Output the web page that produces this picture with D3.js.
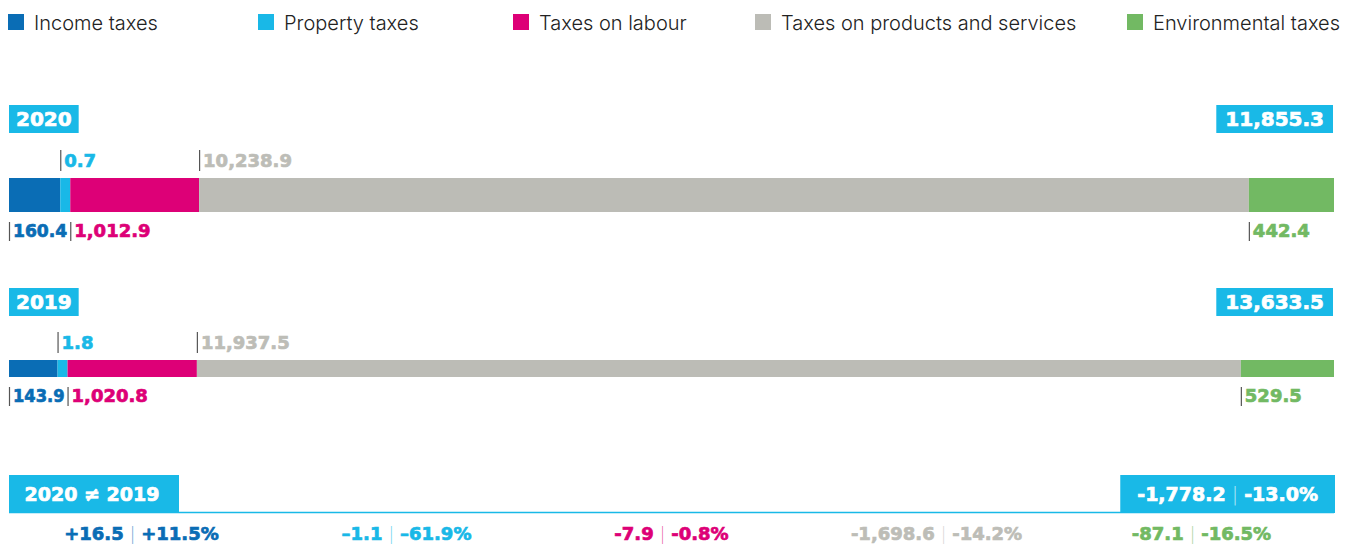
<!DOCTYPE html>
<html><head><meta charset="utf-8">
<script src="https://cdn.jsdelivr.net/npm/d3@7"></script>
<style>
html,body{margin:0;padding:0;background:#fff;}
svg{display:block;}
</style></head><body>
<svg id="chart" width="1346" height="550"></svg>
<script>
// ---------- data ----------
const categories = ["Income taxes", "Property taxes", "Taxes on labour", "Taxes on products and services", "Environmental taxes"];
const years = ["2020", "2019"];
const values2020 = [160.4, 0.7, 1012.9, 10238.9, 442.4];
const values2019 = [143.9, 1.8, 1020.8, 11937.5, 529.5];
const totals = [11855.3, 13633.5];
const labelSide = ["below", "above", "below", "above", "below"];
const changeAbs = ["+16.5", "\u20131.1", "-7.9", "-1,698.6", "-87.1"];
const changePct = ["+11.5%", "\u201361.9%", "-0.8%", "-14.2%", "-16.5%"];
const totalChangeAbs = "-1,778.2";
const totalChangePct = "-13.0%";
const compareLabel = "2020 \u2260 2019";

// ---------- style ----------
const colors = ["#0a6db5", "#19b8e7", "#dd0077", "#bcbcb6", "#72b963"];
const textColors = ["#0a6db5", "#19b8e7", "#dd0077", "#bdbdb7", "#72b963"];
const accent = "#19b9e7";
const heavy = "'DejaVu Sans', sans-serif";
const left = 9, right = 1334;
const legendX = [8, 258, 513, 755, 1127];
const rowLayout = [{boxY: 105, barY: 178, barH: 34}, {boxY: 288, barY: 360, barH: 17}];
const fmt = d3.format(",.1f");

const svg = d3.select("#chart");

// ---------- legend ----------
const lg = svg.append("g");
categories.forEach((c, i) => {
  lg.append("rect").attr("x", legendX[i]).attr("y", 14).attr("width", 16).attr("height", 16).attr("fill", colors[i]);
  lg.append("text").attr("x", legendX[i] + 26).attr("y", 30)
    .attr("font-family", "Inter, Roboto, sans-serif").attr("font-weight", 300)
    .attr("font-size", 20).attr("fill", "#222").text(c);
});

// ---------- segment scale ----------
const segScale = d3.scaleSqrt().domain([0, 1000]).range([0, 128]);
const minSeg = 10;
function layoutSegments(vals) {
  const fillIdx = vals.indexOf(d3.max(vals));
  const w = vals.map((v, i) => i === fillIdx ? 0 : Math.max(minSeg, segScale(v)));
  w[fillIdx] = (right - left) - d3.sum(w);
  const x0 = [left];
  for (let i = 1; i < w.length; i++) x0.push(x0[i - 1] + w[i - 1]);
  return vals.map((v, i) => ({v, i, x: x0[i], w: w[i]}));
}

function heavyText(sel, color) {
  return sel.attr("font-family", heavy).attr("font-weight", "bold")
    .attr("fill", color).attr("stroke", color).attr("stroke-width", 0.7)
    .attr("paint-order", "stroke");
}

function boxLabel(g, text, x, y, h, anchor, size, padX) {
  const t = heavyText(g.append("text"), "#fff").attr("font-size", size).text(text);
  const tw = t.node().getComputedTextLength();
  const bw = tw + 2 * padX;
  const bx = anchor === "end" ? x - bw : x;
  g.insert("rect", "text").attr("x", bx).attr("y", y).attr("width", bw).attr("height", h).attr("fill", accent);
  t.attr("x", bx + padX).attr("y", y + h / 2 + size * 0.36);
}

[values2020, values2019].forEach((vals, r) => {
  const L = rowLayout[r];
  const g = svg.append("g");
  boxLabel(g.append("g"), years[r], left, L.boxY, 28, "start", 20, 7);
  boxLabel(g.append("g"), fmt(totals[r]), right - 1, L.boxY, 28, "end", 20, 9);

  const segs = layoutSegments(vals);
  g.selectAll("rect.seg").data(segs).join("rect").attr("class", "seg")
    .attr("x", d => d.x).attr("y", L.barY).attr("width", d => d.w).attr("height", L.barH)
    .attr("fill", d => colors[d.i]);

  const bottom = L.barY + L.barH;
  const belowSegs = segs.filter(d => labelSide[d.i] === "below");
  segs.forEach(d => {
    const above = labelSide[d.i] === "above";
    const tx = d.x;
    const y1 = above ? L.barY - 28 : bottom + 10;
    const y2 = above ? L.barY - 7 : bottom + 29;
    g.append("line").attr("x1", tx + 0.5).attr("x2", tx + 0.5).attr("y1", y1).attr("y2", y2)
      .attr("stroke", "#555").attr("stroke-width", 1.2);
    const t = heavyText(g.append("text"), textColors[d.i])
      .attr("x", tx + 4).attr("y", above ? L.barY - 11 : bottom + 25)
      .attr("font-size", 18).text(fmt(d.v));
    if (!above) {
      const k = belowSegs.indexOf(d);
      if (k < belowSegs.length - 1) {
        const avail = belowSegs[k + 1].x - tx - 7;
        if (t.node().getComputedTextLength() > avail) {
          t.attr("textLength", avail).attr("lengthAdjust", "spacingAndGlyphs");
        }
      }
    }
  });
});

// ---------- comparison ----------
const cg = svg.append("g");
cg.append("line").attr("x1", left).attr("x2", right).attr("y1", 512.5).attr("y2", 512.5)
  .attr("stroke", accent).attr("stroke-width", 1.5);
cg.append("rect").attr("x", left).attr("y", 475).attr("width", 170).attr("height", 37).attr("fill", accent);
heavyText(cg.append("text"), "#fff").attr("x", left + 83).attr("y", 501).attr("text-anchor", "middle")
  .attr("font-size", 19).text(compareLabel);

const rg = cg.append("g");
const rt = heavyText(rg.append("text"), "#fff").attr("text-anchor", "middle").attr("font-size", 19);
rt.append("tspan").text(totalChangeAbs);
rt.append("tspan").attr("font-weight", 200).attr("stroke-width", 0).attr("fill-opacity", 0.7).text(" | ");
rt.append("tspan").text(totalChangePct);
const rw = rt.node().getComputedTextLength() + 34;
rg.insert("rect", "text").attr("x", right + 1 - rw).attr("y", 475).attr("width", rw).attr("height", 38).attr("fill", accent);
rt.attr("x", right + 1 - rw / 2).attr("y", 501);

const band = d3.scaleBand().domain(categories).range([left, right]);
categories.forEach((c, i) => {
  const t = heavyText(cg.append("text"), textColors[i])
    .attr("x", band(c) + band.bandwidth() / 2).attr("y", 540)
    .attr("text-anchor", "middle").attr("font-size", 18);
  t.append("tspan").text(changeAbs[i]);
  t.append("tspan").attr("font-weight", 200).attr("stroke-width", 0).attr("fill-opacity", 0.6).text(" | ");
  t.append("tspan").text(changePct[i]);
});
</script>
</body></html>
